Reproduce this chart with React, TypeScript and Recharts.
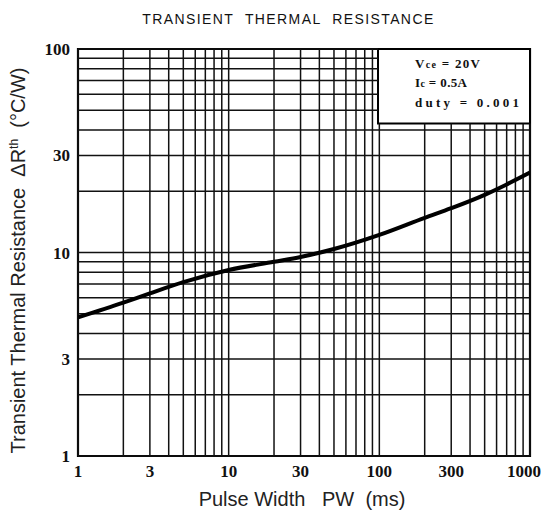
import { LineChart, Line, XAxis, YAxis, ReferenceLine, ReferenceArea } from 'recharts';

// pulse width (ms) vs transient thermal resistance (°C/W)
const pulseWidth = [1, 2, 3, 5, 10, 20, 30, 50, 100, 200, 300, 500, 700, 1000];
const resistance = [4.8, 5.67, 6.3, 7.15, 8.2, 9.0, 9.5, 10.4, 12.2, 14.8, 16.5, 19.2, 21.6, 24.7];

const xTicks = [1, 3, 10, 30, 100, 300, 1000];
const yTicks = [1, 3, 10, 30, 100];

const gridX = [1, 2, 3, 4, 5, 6, 7, 8, 9, 10, 20, 30, 40, 50, 60, 70, 80, 90, 100, 200, 300, 400, 500, 600, 700, 800, 900, 1000];
const gridY = [1, 2, 3, 4, 5, 6, 7, 8, 9, 10, 20, 30, 40, 50, 60, 70, 80, 90, 100];

// conditions box corner (data coords)
const boxX = 98;
const boxY = 43;

const data = pulseWidth.map((pw, i) => ({ pw, r: resistance[i] }));

const tickFont = { fontFamily: 'Liberation Serif', fontWeight: 700, fontSize: 17, fill: '#111' };
const labelFont = 'Liberation Sans';

// last x label sits against the right edge, pull it in a little
const XTick = (props: any) => {
  const { x, y, payload } = props;
  const shift = payload.value === 1000 ? -6 : 0;
  return (
    <text x={x + shift} y={y} dy="0.71em" textAnchor="middle" style={tickFont}>
      {payload.value}
    </text>
  );
};

const ConditionBox = (props: any) => {
  const { x, y } = props.viewBox;
  const tx = x + 37;
  return (
    <g style={{ fontFamily: 'Liberation Serif', fontWeight: 700, fontSize: 13, fill: '#111' }}>
      <text x={tx} y={y + 19} textLength={65} lengthAdjust="spacing">
        V<tspan fontSize={10}>ce</tspan> = 20V
      </text>
      <text x={tx} y={y + 38} textLength={52} lengthAdjust="spacing">
        I<tspan fontSize={10}>c</tspan> = 0.5A
      </text>
      <text x={tx} y={y + 58} textLength={104} lengthAdjust="spacing">
        duty = 0.001
      </text>
    </g>
  );
};

const YLabel = (props: any) => {
  const { y, height } = props.viewBox;
  const cx = 25;
  const cy = y + height / 2 + 8;
  return (
    <text
      x={cx}
      y={cy}
      transform={`rotate(-90, ${cx}, ${cy})`}
      textAnchor="middle"
      style={{ fontFamily: labelFont, fontSize: 20, fill: '#222' }}
    >
      Transient Thermal Resistance{'\u00a0\u00a0'}ΔR
      <tspan fontSize={12} dy={-7}>th</tspan>
      <tspan dy={7}>{'\u00a0\u00a0'}(°C/W)</tspan>
    </text>
  );
};

const XLabel = () => (
  <text
    x={302}
    y={506}
    textAnchor="middle"
    style={{ fontFamily: labelFont, fontSize: 20, fill: '#222' }}
  >
    Pulse Width{'\u00a0\u00a0\u00a0'}PW{'\u00a0\u00a0'}(ms)
  </text>
);

export default function App() {
  return (
    <div style={{ position: 'absolute', left: 0, top: 0, width: 544, height: 518, background: '#fff' }}>
      <div
        style={{
          position: 'absolute',
          left: 0,
          top: 11,
          width: 577,
          textAlign: 'center',
          fontFamily: 'Liberation Sans',
          fontSize: 14,
          letterSpacing: 1.4,
          lineHeight: '16px',
          color: '#111',
        }}
      >
        TRANSIENT{'\u00a0\u00a0'}THERMAL{'\u00a0\u00a0'}RESISTANCE
      </div>
      <LineChart width={544} height={518} data={data} margin={{ top: 49, right: 14, bottom: 32, left: 38 }}>
        <XAxis
          dataKey="pw"
          type="number"
          scale="log"
          domain={[1, 1000]}
          ticks={xTicks}
          allowDataOverflow
          axisLine={false}
          tickLine={false}
          tickMargin={3}
          height={30}
          tick={<XTick />}
          interval={0}
          label={<XLabel />}
        />
        <YAxis
          type="number"
          scale="log"
          domain={[1, 100]}
          ticks={yTicks}
          allowDataOverflow
          axisLine={false}
          tickLine={false}
          tickMargin={2}
          width={40}
          tick={tickFont}
          interval={0}
          label={<YLabel />}
        />
        {gridY.map((v) =>
          v > boxY ? (
            <ReferenceLine key={'y' + v} segment={[{ x: 1, y: v }, { x: boxX, y: v }]} stroke="#111" strokeWidth={1.5} />
          ) : (
            <ReferenceLine key={'y' + v} y={v} stroke="#111" strokeWidth={1.5} />
          )
        )}
        {gridX.map((v) =>
          v >= boxX ? (
            <ReferenceLine key={'x' + v} segment={[{ x: v, y: 1 }, { x: v, y: boxY }]} stroke="#111" strokeWidth={1.5} />
          ) : (
            <ReferenceLine key={'x' + v} x={v} stroke="#111" strokeWidth={1.5} />
          )
        )}
        <ReferenceArea x1={1} x2={1000} y1={1} y2={100} fill="none" stroke="#000" strokeWidth={2.2} />
        <ReferenceArea
          x1={boxX}
          x2={1000}
          y1={boxY}
          y2={100}
          fill="#fff"
          fillOpacity={1}
          stroke="#000"
          strokeWidth={2}
          label={<ConditionBox />}
        />
        <Line
          dataKey="r"
          type="monotone"
          stroke="#000"
          strokeWidth={4}
          dot={false}
          isAnimationActive={false}
        />
      </LineChart>
    </div>
  );
}
